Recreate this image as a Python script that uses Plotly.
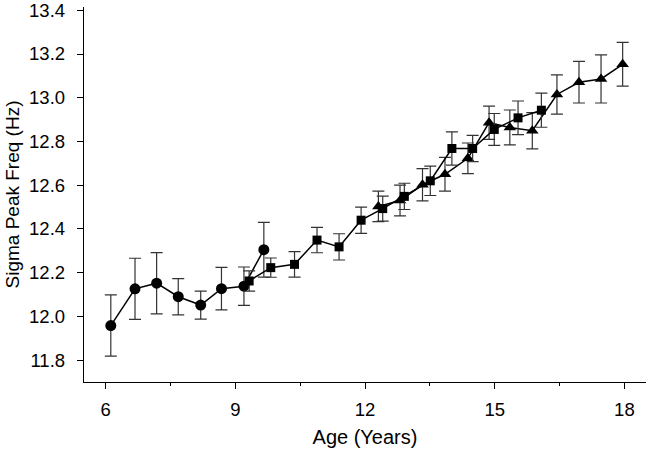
import plotly.graph_objects as go

# Circles (younger cohort)
circ_age = [6.12, 6.68, 7.18, 7.68, 8.20, 8.68, 9.20, 9.66]
circ_val = [11.958, 12.126, 12.152, 12.090, 12.052, 12.127, 12.138, 12.305]
circ_err = [0.14, 0.14, 0.14, 0.083, 0.064, 0.097, 0.088, 0.125]

# Squares (middle cohort)
sq_age = [9.32, 9.82, 10.37, 10.89, 11.40, 11.91, 12.41, 12.91, 13.51, 14.01, 14.49, 14.99, 15.54, 16.08]
sq_val = [12.162, 12.223, 12.238, 12.349, 12.318, 12.440, 12.493, 12.549, 12.620, 12.768, 12.768, 12.855, 12.908, 12.943]
sq_err = [0.046, 0.044, 0.058, 0.058, 0.060, 0.060, 0.057, 0.060, 0.067, 0.076, 0.060, 0.073, 0.077, 0.078]

# Triangles (older cohort)
tri_age = [12.31, 12.81, 13.33, 13.85, 14.38, 14.87, 15.35, 15.87, 16.44, 16.95, 17.46, 17.96]
tri_val = [12.503, 12.530, 12.602, 12.650, 12.723, 12.886, 12.864, 12.849, 13.015, 13.071, 13.086, 13.153]
tri_err = [0.070, 0.070, 0.074, 0.077, 0.070, 0.076, 0.080, 0.083, 0.090, 0.095, 0.110, 0.100]

x_ticks = [6, 9, 12, 15, 18]
y_ticks = [11.8, 12.0, 12.2, 12.4, 12.6, 12.8, 13.0, 13.2, 13.4]

FONT = "Liberation Sans, Arial, sans-serif"

def series(x, y, e, symbol, size):
    return go.Scatter(
        x=x, y=y, mode="lines+markers",
        line=dict(color="black", width=1.5),
        marker=dict(symbol=symbol, size=size, color="black"),
        error_y=dict(type="data", array=e, visible=True, color="#333333", thickness=1.2, width=6),
        showlegend=False, hoverinfo="skip", cliponaxis=False,
    )

fig = go.Figure()
fig.add_trace(series(circ_age, circ_val, circ_err, "circle", 11))
fig.add_trace(series(tri_age, tri_val, tri_err, "triangle-up", 11))
fig.add_trace(series(sq_age, sq_val, sq_err, "square", 9))

fig.update_layout(
    width=647, height=453,
    margin=dict(l=84, r=1, t=7, b=71),
    paper_bgcolor="white", plot_bgcolor="white",
    font=dict(family=FONT, size=18.5, color="black"),
    xaxis=dict(
        range=[5.5, 18.5], tickvals=x_ticks, ticktext=[str(v) for v in x_ticks],
        automargin=False, ticklabelstandoff=5, ticklabeloverflow="allow",
        tickfont=dict(size=18.5),
        showgrid=False, zeroline=False, showline=True, linecolor="black", linewidth=1.2,
        ticks="outside", ticklen=6, tickcolor="black", tickwidth=1,
        minor=dict(ticks="outside", ticklen=3, dtick=1.5, tick0=6, tickcolor="black", showgrid=False),
        title=dict(text="Age (Years)", font=dict(size=20), standoff=10),
    ),
    yaxis=dict(
        range=[11.7, 13.415], tickvals=y_ticks, ticktext=[f"{v:.1f}" for v in y_ticks],
        automargin=False, ticklabelstandoff=8, ticklabeloverflow="allow",
        tickfont=dict(size=18.5),
        showgrid=False, zeroline=False, showline=True, linecolor="black", linewidth=1.2,
        ticks="outside", ticklen=6, tickcolor="black", tickwidth=1,
        title=dict(text="Sigma Peak Freq (Hz)", font=dict(size=19), standoff=4),
    ),
)

fig.write_html(
    "out.html",
    config={"displayModeBar": False, "staticPlot": True},
    post_script="document.body.style.margin='0';document.body.style.overflow='hidden';",
)
